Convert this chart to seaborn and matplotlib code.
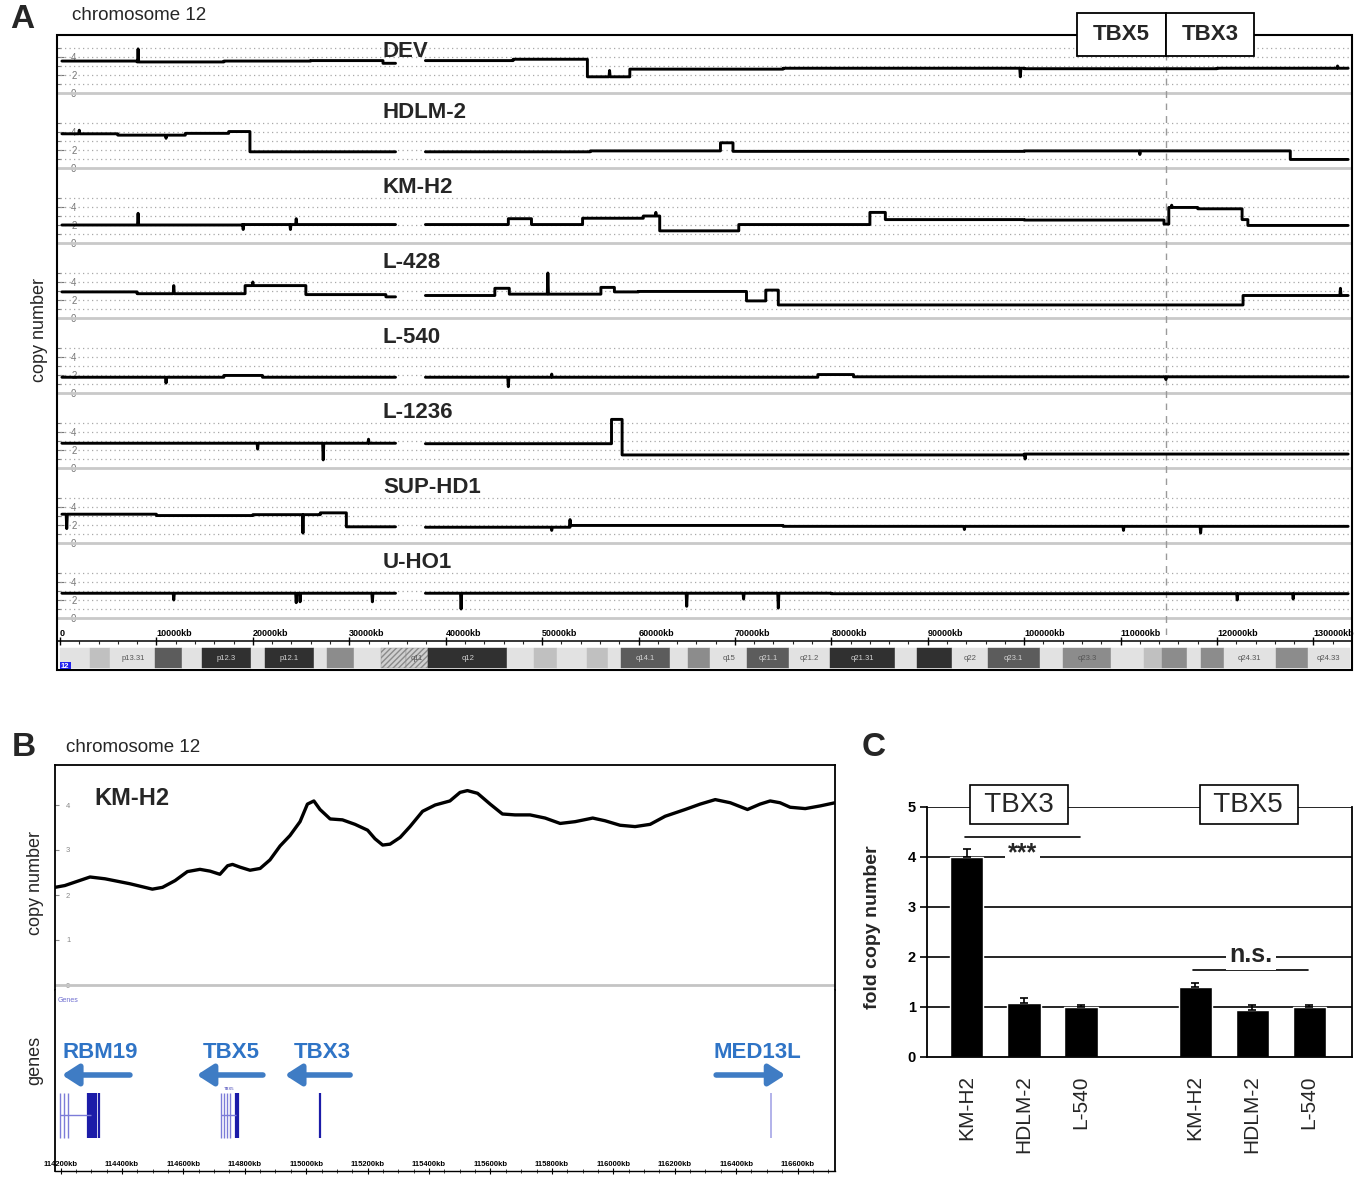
import matplotlib
matplotlib.use("Agg")
import matplotlib.pyplot as plt
from matplotlib.patches import Rectangle
import numpy as np
import pandas as pd
import seaborn as sns

# ---------------- data ----------------
cell_lines = ["DEV", "HDLM-2", "KM-H2", "L-428", "L-540", "L-1236", "SUP-HD1", "U-HO1"]

# copy-number segments (start Mb, end Mb, copies) and single-probe spikes (Mb, copies)
dev_seg = [(0.2, 8.0, 3.55), (8.0, 17.0, 3.45), (17.0, 26.0, 3.55), (26.0, 33.5, 3.6),
           (33.5, 34.8, 3.3), (37.9, 47.0, 3.6), (47.0, 54.7, 3.75), (54.7, 59.1, 1.8),
           (59.1, 75.0, 2.65), (75.0, 100.0, 2.75), (100.0, 120.0, 2.7), (120.0, 133.6, 2.75)]
dev_spk = [(8.1, 4.9), (57.0, 2.5), (99.6, 1.8), (132.5, 3.0)]

hdlm_seg = [(0.2, 6.0, 3.8), (6.0, 13.0, 3.65), (13.0, 17.5, 3.85), (17.5, 19.7, 4.05),
            (19.7, 34.8, 1.8), (37.9, 55.0, 1.8), (55.0, 68.5, 1.9), (68.5, 69.8, 2.8),
            (69.8, 100.0, 1.85), (100.0, 127.6, 1.9), (127.6, 133.6, 0.95)]
hdlm_spk = [(2.0, 4.2), (11.0, 3.3), (112.0, 1.5)]

kmh2_seg = [(0.2, 19.0, 2.0), (19.0, 34.8, 2.05), (37.9, 46.5, 2.05), (46.5, 48.9, 2.7),
            (48.9, 54.2, 2.05), (54.2, 60.5, 2.75), (60.5, 62.2, 3.0), (62.2, 70.4, 1.35),
            (70.4, 84.0, 2.05), (84.0, 85.6, 3.4), (85.6, 100.0, 2.6), (100.0, 114.5, 2.55),
            (114.5, 115.0, 2.1), (115.0, 118.0, 3.95), (118.0, 122.6, 3.8), (122.6, 123.2, 2.6),
            (123.2, 133.6, 1.95)]
kmh2_spk = [(8.1, 3.3), (19.0, 1.5), (23.9, 1.5), (24.5, 2.7), (61.8, 3.4), (115.3, 4.2)]

l428_seg = [(0.2, 8.0, 2.9), (8.0, 19.2, 2.7), (19.2, 25.5, 3.6), (25.5, 33.8, 2.6),
            (33.8, 34.8, 2.35), (37.9, 45.1, 2.5), (45.1, 46.6, 3.3), (46.6, 56.1, 2.65),
            (56.1, 57.5, 3.4), (57.5, 60.0, 2.9), (60.0, 71.2, 2.95), (71.2, 73.2, 1.9),
            (73.2, 74.5, 3.1), (74.5, 122.7, 1.45), (122.7, 133.6, 2.5)]
l428_spk = [(11.8, 3.6), (20.0, 4.0), (50.6, 5.0), (132.8, 3.3)]

l540_seg = [(0.2, 17.0, 1.75), (17.0, 21.0, 1.95), (21.0, 34.8, 1.75), (37.9, 78.6, 1.75),
            (78.6, 82.3, 2.05), (82.3, 133.6, 1.8)]
l540_spk = [(11.0, 1.1), (46.5, 0.7), (51.0, 2.1), (114.7, 1.5)]

l1236_seg = [(0.2, 34.8, 2.75), (37.9, 57.2, 2.7), (57.2, 58.3, 5.4), (58.3, 100.0, 1.45),
             (100.0, 133.6, 1.55)]
l1236_spk = [(20.5, 2.1), (27.3, 0.9), (32.0, 3.2), (100.1, 1.0)]

suphd_seg = [(0.2, 10.0, 3.2), (10.0, 20.0, 3.05), (20.0, 27.0, 3.15), (27.0, 29.7, 3.35),
             (29.7, 34.8, 1.8), (37.9, 52.9, 1.75), (52.9, 75.0, 1.95), (75.0, 133.6, 1.85)]
suphd_spk = [(0.7, 1.6), (25.2, 1.1), (51.0, 1.4), (52.9, 2.6), (93.8, 1.5), (110.3, 1.4),
             (118.3, 1.1)]

uho1_seg = [(0.2, 34.8, 2.75), (37.9, 80.0, 2.75), (80.0, 133.6, 2.7)]
uho1_spk = [(11.8, 2.0), (24.5, 1.7), (24.9, 1.8), (32.4, 1.8), (41.6, 1.0), (65.0, 1.3),
            (70.9, 2.1), (74.5, 1.1), (122.1, 2.0), (127.9, 2.1)]

track_segments = [dev_seg, hdlm_seg, kmh2_seg, l428_seg, l540_seg, l1236_seg, suphd_seg, uho1_seg]
track_spikes = [dev_spk, hdlm_spk, kmh2_spk, l428_spk, l540_spk, l1236_spk, suphd_spk, uho1_spk]

tbx_locus_mb = 114.7

# chromosome 12 ideogram
band_start = [0.0, 3.1, 5.2, 9.9, 12.7, 14.7, 19.8, 21.3, 26.3, 27.7, 30.5, 33.3, 35.9, 38.2,
              46.4, 49.2, 51.5, 54.7, 56.8, 58.2, 63.3, 65.1, 67.4, 71.3, 75.6, 79.9, 86.6,
              88.9, 92.5, 96.2, 101.6, 104.0, 109.0, 112.4, 114.3, 116.9, 118.3, 120.7,
              126.1, 129.4]
band_end = band_start[1:] + [133.8]
band_stain = ["gneg", "gpos25", "gneg", "gpos75", "gneg", "gpos100", "gneg", "gpos100",
              "gneg", "gpos50", "gneg", "acen", "acen", "gpos100", "gneg", "gpos25", "gneg",
              "gpos25", "gneg", "gpos75", "gneg", "gpos50", "gneg", "gpos75", "gneg",
              "gpos100", "gneg", "gpos100", "gneg", "gpos75", "gneg", "gpos50", "gneg",
              "gpos25", "gpos50", "gneg", "gpos50", "gneg", "gpos50", "gneg"]
band_name = ["", "", "p13.31", "", "", "p12.3", "", "p12.1", "", "", "", "", "q11", "q12",
             "", "", "", "", "", "q14.1", "", "", "q15", "q21.1", "q21.2", "q21.31", "",
             "", "q22", "q23.1", "", "q23.3", "", "", "", "", "", "q24.31", "", "q24.33"]
chrom_ticks_mb = list(range(0, 131, 10))

# panel B: KM-H2 high resolution copy number
b_pos_kb = [114182, 114214, 114296, 114345, 114426, 114499, 114532, 114573, 114613, 114654,
            114687, 114719, 114744, 114760, 114784, 114817, 114850, 114882, 114915, 114947,
            114980, 115004, 115025, 115045, 115078, 115118, 115159, 115200, 115224, 115249,
            115273, 115306, 115338, 115379, 115420, 115468, 115501, 115525, 115558, 115599,
            115639, 115680, 115729, 115778, 115827, 115876, 115933, 115973, 116022, 116071,
            116120, 116169, 116234, 116283, 116332, 116381, 116437, 116478, 116511, 116543,
            116576, 116625, 116674, 116722]
b_copy = [2.17, 2.21, 2.40, 2.36, 2.25, 2.13, 2.17, 2.32, 2.52, 2.57, 2.53, 2.46, 2.65, 2.68,
          2.62, 2.55, 2.59, 2.78, 3.09, 3.32, 3.63, 4.02, 4.09, 3.90, 3.69, 3.67, 3.57, 3.44,
          3.25, 3.11, 3.13, 3.28, 3.52, 3.86, 4.00, 4.09, 4.28, 4.32, 4.26, 4.02, 3.80, 3.78,
          3.78, 3.71, 3.59, 3.63, 3.71, 3.65, 3.55, 3.52, 3.57, 3.75, 3.90, 4.02, 4.12, 4.05,
          3.90, 4.02, 4.09, 4.05, 3.95, 3.92, 3.98, 4.05]
b_ticks_kb = list(range(114200, 116601, 200))

gene_names = ["RBM19", "TBX5", "TBX3", "MED13L"]
gene_label_kb = [114328, 114755, 115051, 116468]
gene_arrow_from = [114426, 114859, 115143, 116335]
gene_arrow_to = [114205, 114644, 114931, 116560]
exon_kb = [114198, 114211, 114224, 114289, 114296, 114303, 114310, 114317, 114324,
           114722, 114732, 114742, 114752, 114771, 114778, 115045, 116514]
exon_kind = ["thin", "thin", "thin", "thick", "thick", "thick", "thick", "thick", "thick",
             "thin", "thin", "thin", "thin", "thick", "thick", "thick", "faint"]
intron_start = [114198, 114722]
intron_end = [114299, 114771]

# panel C: qPCR fold copy number
c_gene = ["TBX3", "TBX3", "TBX3", "TBX5", "TBX5", "TBX5"]
c_cell = ["KM-H2", "HDLM-2", "L-540", "KM-H2", "HDLM-2", "L-540"]
c_pos = [0, 1, 2, 4, 5, 6]
c_value = [4.0, 1.09, 1.0, 1.41, 0.94, 1.0]
c_error = [0.16, 0.09, 0.05, 0.08, 0.11, 0.05]
c_sig_text = ["***", "n.s."]
c_sig_span = [(0, 2), (4, 6)]      # bar positions joined by the bracket
c_sig_line_y = [4.4, 1.74]
c_sig_text_y = [4.08, 2.04]

# ---------------- figure ----------------
sns.set_theme(style="white")
plt.rcParams["font.family"] = ["Liberation Sans", "DejaVu Sans"]

W, H = 1359, 1177
fig = plt.figure(figsize=(W / 100, H / 100), dpi=100)


def px_axes(x0, y0, x1, y1):
    return fig.add_axes([x0 / W, 1 - y1 / H, (x1 - x0) / W, (y1 - y0) / H])


def fig_text(x, y, s, **kw):
    fig.text(x / W, 1 - y / H, s, **kw)


def build_trace(segments, spikes):
    rows = []
    for s, e, v in segments:
        arm = "p" if e <= 35 else "q"
        rows.append((s, v, arm))
        for p, sv in sorted(spikes):
            if s <= p < e:
                rows += [(p - 0.06, v, arm), (p, sv, arm), (p + 0.06, v, arm)]
        rows.append((e, v, arm))
    return pd.DataFrame(rows, columns=["pos", "cn", "arm"])


XLIM_A = (-0.31, 134.0)

# ---- panel A tracks
for i, name in enumerate(cell_lines):
    zero = 93 + 75 * i
    ax = px_axes(57, zero - 58, 1352, zero + 17)
    ax.patch.set_alpha(0)
    ax.set_xlim(*XLIM_A)
    ax.set_ylim(-17 / 9, 58 / 9)
    for sp in ax.spines.values():
        sp.set_visible(False)
    ax.set_xticks([])
    for lev in range(1, 6):
        ax.hlines(lev, 0, 133.8, colors="#a8a8a8", linestyles=(0, (1, 2.6)), lw=0.9, zorder=1)
    ax.axhline(0, color="#c9c9c9", lw=2, zorder=1)
    ax.axvline(tbx_locus_mb, color="#9a9a9a", ls=(0, (5, 4)), lw=1, zorder=1)
    df = build_trace(track_segments[i], track_spikes[i])
    sns.lineplot(data=df, x="pos", y="cn", units="arm", estimator=None, sort=False,
                 color="black", lw=2.1, ax=ax, legend=False, zorder=3)
    ax.set_xlabel("")
    ax.set_ylabel("")
    ax.set_yticks([0, 2, 4])
    ax.set_yticklabels(["0", "2", "4"])
    ax.set_yticks([1, 3, 5], minor=True)
    ax.tick_params(axis="y", which="both", direction="in", length=5, width=0.8,
                   colors="#777777", labelsize=7, pad=-14, left=True)
    ax.tick_params(axis="y", which="minor", length=3)
    ty = 4.6 if i == 0 else 6.2
    ax.text(33.5, ty, name, fontsize=16, weight="bold", ha="left", va="center", zorder=4)

# ---- ideogram + ruler
axI = px_axes(57, 641, 1352, 670)
axI.set_xlim(*XLIM_A)
axI.set_ylim(0, 1)
stain_color = {"gneg": "#e2e2e2", "gpos25": "#c0c0c0", "gpos50": "#8c8c8c",
               "gpos75": "#5c5c5c", "gpos100": "#303030", "acen": "#d0d0d0"}
for s, e, st, nm in zip(band_start, band_end, band_stain, band_name):
    axI.barh(0.41, e - s, left=s, height=0.69, color=stain_color[st],
             hatch="//////" if st == "acen" else None,
             edgecolor="#8a8a8a" if st == "acen" else stain_color[st], lw=0.3)
    if nm:
        tc = "#d5d5d5" if st in ("gpos75", "gpos100") else "#555555"
        axI.text((s + e) / 2, 0.41, nm, fontsize=5.5, color=tc, ha="center", va="center")
axI.text(0.003, 0.12, "12", transform=axI.transAxes, fontsize=5.5, weight="bold",
         color="white", ha="left", va="center",
         bbox=dict(boxstyle="square,pad=0.15", fc="#2222ee", ec="none"))
for side in ["left", "right", "bottom"]:
    axI.spines[side].set_visible(False)
axI.spines["top"].set_color("black")
axI.spines["top"].set_linewidth(1.1)
axI.xaxis.tick_top()
axI.set_xticks(chrom_ticks_mb)
axI.set_xticklabels(["0"] + [f"{t * 1000}kb" for t in chrom_ticks_mb[1:]])
axI.set_xticks(np.arange(0, 134, 2), minor=True)
axI.tick_params(axis="x", which="major", direction="inout", length=6, width=1,
                labelsize=6.5, pad=-1, colors="black", top=True)
axI.tick_params(axis="x", which="minor", direction="in", length=2.5, width=0.8, top=True)
for lab in axI.get_xticklabels():
    lab.set_ha("left")
    lab.set_weight("bold")
axI.set_yticks([])

# frame and labels of panel A
fig.add_artist(Rectangle((57 / W, 1 - 670 / H), (1352 - 57) / W, (670 - 35) / H,
                         transform=fig.transFigure, fill=False, lw=1.5, ec="black", zorder=4))
for (x0, x1), lab in zip([(1077, 1166), (1166, 1254)], ["TBX5", "TBX3"]):
    fig.add_artist(Rectangle((x0 / W, 1 - 56 / H), (x1 - x0) / W, 43 / H,
                             transform=fig.transFigure, fc="white", lw=1.3, ec="black",
                             zorder=6))
    fig_text((x0 + x1) / 2, 35, lab, fontsize=16, weight="bold", ha="center", va="center",
             zorder=7)
fig_text(10, 20, "A", fontsize=24, weight="bold", ha="left", va="center")
fig_text(72, 16, "chromosome 12", fontsize=13.5, ha="left", va="center")
fig_text(40, 330, "copy number", fontsize=13, rotation=90, ha="center", va="center")

# ---- panel B
XLIM_B = (114182, 116722)
axB = px_axes(55, 765, 835, 990)
axB.set_xlim(*XLIM_B)
axB.set_ylim(-5 / 45, 220 / 45)
sns.lineplot(x=b_pos_kb, y=b_copy, sort=False, estimator=None, color="black", lw=2.4, ax=axB)
axB.axhline(0, color="#c4c4c4", lw=2)
for side in ["left", "top", "right"]:
    axB.spines[side].set_color("black")
    axB.spines[side].set_linewidth(1.3)
axB.spines["bottom"].set_visible(False)
axB.set_xticks([])
axB.set_yticks([0, 1, 2, 3, 4])
axB.tick_params(axis="y", direction="in", length=3, width=0.8, colors="#888888",
                labelsize=5.5, pad=-11, left=True)
axB.text(0.051, 0.853, "KM-H2", transform=axB.transAxes, fontsize=17, weight="bold",
         ha="left", va="center")

axG = px_axes(55, 990, 835, 1171)
axG.set_xlim(*XLIM_B)
axG.set_ylim(181, 0)
for side in ["left", "right", "bottom"]:
    axG.spines[side].set_color("black")
    axG.spines[side].set_linewidth(1.3)
axG.spines["top"].set_visible(False)
axG.spines["bottom"].set_linewidth(1)
axG.text(114192, 11, "Genes", fontsize=5, color="#6f6fd0", ha="left", va="center")
exon_style = {"thin": ("#7c7cd8", 1.0), "thick": ("#1c1ca8", 1.6), "faint": ("#a6a6e6", 1.2)}
for xk, kind in zip(exon_kb, exon_kind):
    col, lw = exon_style[kind]
    axG.vlines(xk, 103, 148, colors=col, lw=lw)
axG.hlines([125] * len(intron_start), intron_start, intron_end, colors="#7c7cd8", lw=1)
axG.text(114750, 99, "TBX5", fontsize=3, color="#3030b0", ha="center", va="center")
for nm, lx, a0, a1 in zip(gene_names, gene_label_kb, gene_arrow_from, gene_arrow_to):
    axG.annotate("", xy=(a1, 85), xytext=(a0, 85),
                 arrowprops=dict(arrowstyle="-|>,head_length=0.7,head_width=0.45",
                                 lw=4, color="#3f7cc4", mutation_scale=14,
                                 shrinkA=0, shrinkB=0))
    axG.text(lx, 63, nm, fontsize=16, weight="bold", color="#2f74c6", ha="center",
             va="center")
axG.set_yticks([])
axG.set_xticks(b_ticks_kb)
axG.set_xticklabels([f"{t}kb" for t in b_ticks_kb])
axG.set_xticks(np.arange(114200, 116722, 50), minor=True)
axG.tick_params(axis="x", which="major", direction="inout", length=5, width=0.8,
                labelsize=5.5, pad=-10, colors="black", bottom=True)
axG.tick_params(axis="x", which="minor", direction="inout", length=3, width=0.6, bottom=True)
for lab in axG.get_xticklabels():
    lab.set_weight("bold")
    lab.set_clip_on(True)

fig_text(12, 748, "B", fontsize=24, weight="bold", ha="left", va="center")
fig_text(66, 748, "chromosome 12", fontsize=13.5, ha="left", va="center")
fig_text(35, 883, "copy number", fontsize=13, rotation=90, ha="center", va="center")
fig_text(35, 1060, "genes", fontsize=13, rotation=90, ha="center", va="center")

# ---- panel C
axC = px_axes(927, 807, 1352, 1057)
for lev in range(1, 6):
    axC.axhline(lev, color="black", lw=1.2, zorder=0)
sns.barplot(x=c_pos, y=c_value, native_scale=True, color="black", saturation=1,
            width=0.58, errorbar=None, ax=axC, zorder=2)
axC.errorbar(c_pos, c_value, yerr=[[0] * len(c_error), c_error], fmt="none",
             ecolor="black", elinewidth=1.2, capsize=3, capthick=1.2, zorder=3)
axC.set_xlim(-0.7, 6.75)
axC.set_ylim(0, 5)
for side in ["left", "right", "bottom"]:
    axC.spines[side].set_visible(True)
    axC.spines[side].set_color("black")
    axC.spines[side].set_linewidth(1.3)
axC.spines["top"].set_visible(False)
axC.set_yticks(range(6))
axC.set_yticklabels([str(v) for v in range(6)], weight="bold")
axC.tick_params(axis="y", direction="out", length=5, width=1.2, labelsize=10.5, pad=3,
                left=True, colors="black")
axC.set_xticks(c_pos)
axC.set_xticklabels(c_cell, rotation=90, fontsize=15)
axC.tick_params(axis="x", length=0, pad=13)
axC.set_xlabel("")
axC.set_ylabel("")
for g, gpos in zip(["TBX3", "TBX5"], [0.91, 4.94]):
    axC.text(gpos, 5.05, f" {g} ", fontsize=20, ha="center", va="center", clip_on=False,
             zorder=6, bbox=dict(boxstyle="square,pad=0.25", fc="white", ec="black", lw=1.2))
for txt, (x0, x1), ly, tyy in zip(c_sig_text, c_sig_span, c_sig_line_y, c_sig_text_y):
    axC.plot([x0 - 0.04, x1 - 0.02], [ly, ly], color="black", lw=1.2, zorder=4)
    axC.text((x0 + x1) / 2 - 0.02, tyy, txt, fontsize=18, weight="bold",
             ha="center", va="center", zorder=5,
             bbox=dict(boxstyle="square,pad=0.12", fc="white", ec="none"))

fig_text(862, 748, "C", fontsize=24, weight="bold", ha="left", va="center")
fig_text(873, 927, "fold copy number", fontsize=14, weight="bold", rotation=90,
         ha="center", va="center")

fig.savefig("out.png", dpi=100)
